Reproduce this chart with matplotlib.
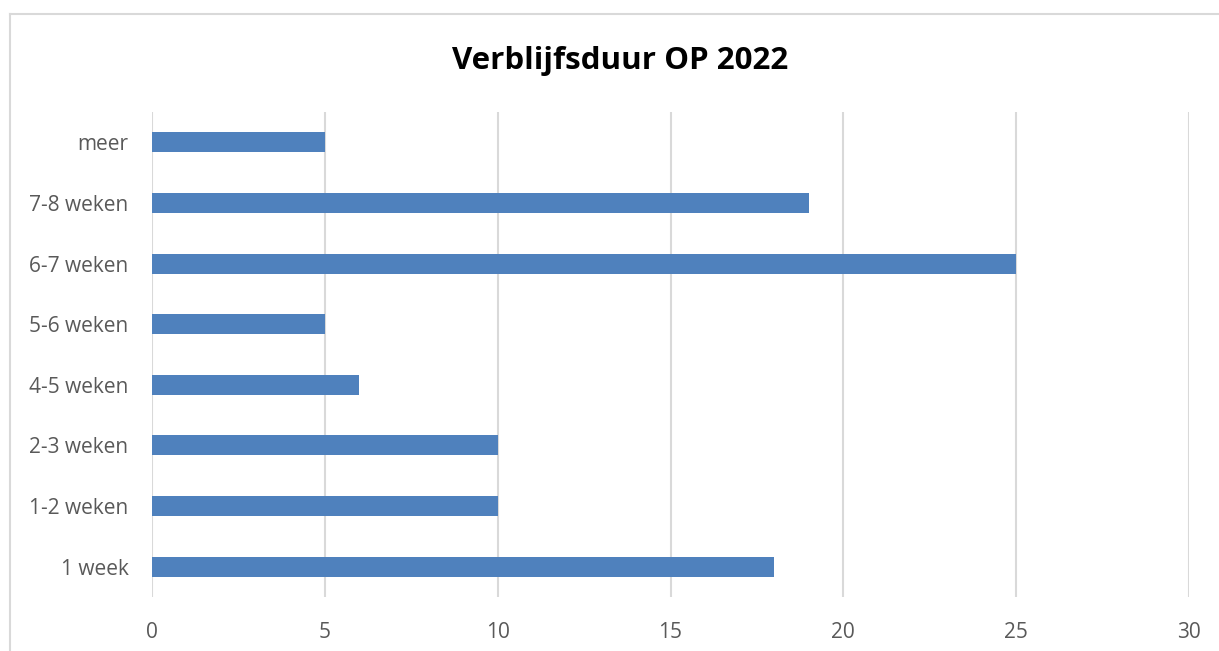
import matplotlib.pyplot as plt
from matplotlib.lines import Line2D

categories = ["1 week", "1-2 weken", "2-3 weken", "4-5 weken", "5-6 weken",
              "6-7 weken", "7-8 weken", "meer"]
values = [18, 10, 10, 6, 5, 25, 19, 5]
xticks = [0, 5, 10, 15, 20, 25, 30]

plt.rcParams['font.family'] = ['Open Sans', 'DejaVu Sans']

fig = plt.figure(figsize=(12.19, 6.51), dpi=100)
ax = fig.add_axes([0.1247, 0.0829, 0.8507, 0.7451])

ypos = list(range(len(categories)))
ax.barh(ypos, values, height=0.33, color="#4F81BD", zorder=3)

ax.set_xlim(0, 30)
ax.set_ylim(-0.5, len(categories) - 0.5)
ax.set_xticks(xticks)
ax.set_yticks(ypos)
ax.set_yticklabels(categories)
ax.grid(axis='x', color="#D9D9D9", linewidth=1.5, zorder=0)
for s in ax.spines.values():
    s.set_visible(False)
ax.tick_params(axis='both', length=0, labelsize=15, labelcolor="#595959")
ax.tick_params(axis='x', pad=18)
ax.tick_params(axis='y', pad=17)

fig.suptitle("Verblijfsduur OP 2022", x=0.509, y=0.93, fontsize=22.5,
             fontweight='bold', color="black")

# chart frame (left and top edges visible in the crop)
fig.add_artist(Line2D([10 / 1219, 10 / 1219], [0, 1 - 14 / 651],
                      transform=fig.transFigure, color="#D9D9D9", linewidth=1.5))
fig.add_artist(Line2D([10 / 1219, 1], [1 - 14 / 651, 1 - 14 / 651],
                      transform=fig.transFigure, color="#D9D9D9", linewidth=1.5))

fig.savefig("out.png", dpi=100)
